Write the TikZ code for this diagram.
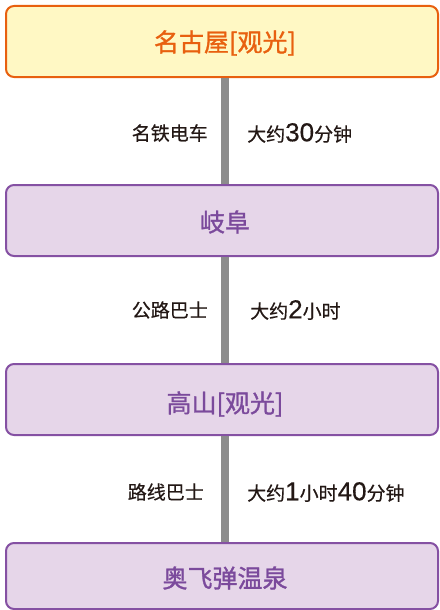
\documentclass[tikz,border=0pt]{standalone}
\usepackage{fontspec}
\newfontfamily\cjk{Noto Sans CJK SC}[FakeBold=0.5]
\newfontfamily\cjkt{Noto Sans CJK SC}[FakeBold=1.2]
\newfontfamily\numf{Liberation Sans}[FakeBold=0.4]
\definecolor{orgline}{HTML}{E8600F}
\definecolor{orgfill}{HTML}{FFF8C4}
\definecolor{purline}{HTML}{8551A3}
\definecolor{purfill}{HTML}{E6D6E9}
\definecolor{purtext}{HTML}{7B4A9C}
\definecolor{labtext}{HTML}{231815}
\definecolor{conngray}{HTML}{8C8C8C}
\newcommand{\nm}[1]{{\numf\fontsize{26}{30}\selectfont #1}}
\begin{document}
\begin{tikzpicture}[x=1pt,y=-1pt,
  stopbox/.style={draw, line width=2pt, rounded corners=8pt, minimum width=432pt, inner sep=0pt},
  orgbox/.style={stopbox, draw=orgline, fill=orgfill},
  purbox/.style={stopbox, draw=purline, fill=purfill},
  title/.style={font=\cjkt\fontsize{25}{29}\selectfont, inner sep=0pt},
  lbl/.style={font=\cjk\fontsize{19}{22}\selectfont, text=labtext, inner sep=0pt},
  conn/.style={draw=conngray, line width=8pt}
]
\useasboundingbox (0,0) rectangle (439,610);
\node[orgbox, minimum height=71pt] (b1) at (222,41.5) {};
\node[purbox, minimum height=71pt] (b2) at (222,220.5) {};
\node[purbox, minimum height=71pt] (b3) at (222,399.5) {};
\node[purbox, minimum height=66pt] (b4) at (222,576) {};
\node[title, text=orgline] (t1) at (225,43) {名古屋[观光]};
\node[title, text=purtext] (t2) at (225,222) {岐阜};
\node[title, text=purtext] (t3) at (225,404) {高山[观光]};
\node[title, text=purtext] (t4) at (225,578) {奥飞弹温泉};
\draw[conn] (b1.south -| t1) -- (b2.north -| t1);
\draw[conn] (b2.south -| t1) -- (b3.north -| t1);
\draw[conn] (b3.south -| t1) -- (b4.north -| t1);
\node[lbl, anchor=east] (l1) at (208,133) {名铁电车};
\node[lbl, anchor=west] (r1) at (247,133) {大约\nm{30}分钟};
\node[lbl, anchor=east] (l2) at (208,310) {公路巴士};
\node[lbl, anchor=west] (r2) at (250,310) {大约\nm{2}小时};
\node[lbl, anchor=east] (l3) at (204,492) {路线巴士};
\node[lbl, anchor=west] (r3) at (247,492) {大约\nm{1}小时\nm{40}分钟};
\end{tikzpicture}
\end{document}
